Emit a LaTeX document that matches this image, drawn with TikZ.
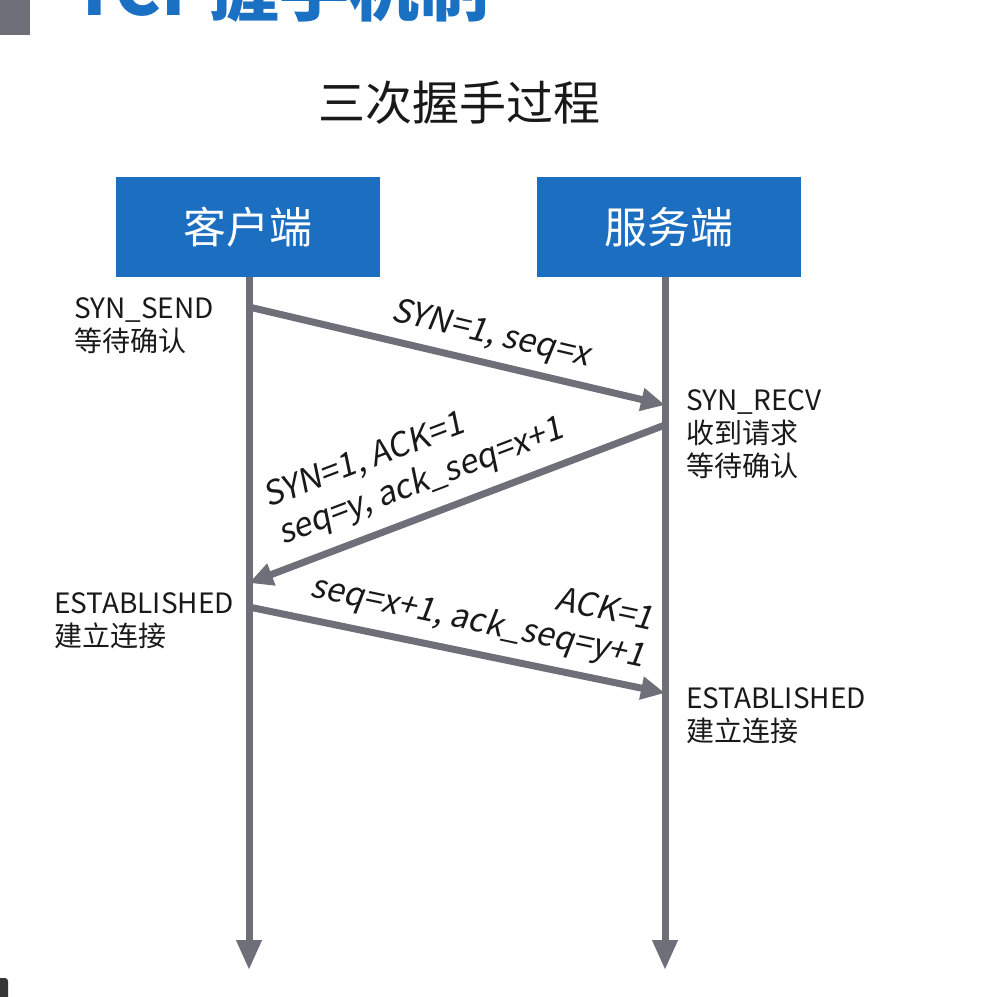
\documentclass[tikz,border=0pt]{standalone}
\usepackage{fontspec}
\setmainfont{Noto Sans CJK SC}
\newfontfamily\msgfont[FakeSlant=0.16]{Noto Sans CJK SC}
\usetikzlibrary{arrows.meta}
\definecolor{lifegrey}{RGB}{110,111,121}
\definecolor{boxblue}{RGB}{27,110,192}
\definecolor{titleblue}{RGB}{26,112,195}
\definecolor{textdark}{RGB}{25,25,25}
\definecolor{cornerdark}{RGB}{55,55,58}
\tikzset{
  party/.style={fill=boxblue, text=white, minimum width=264pt, minimum height=100pt,
    inner sep=0pt, font=\fontsize{43}{50}\selectfont},
  lifeline/.style={draw=lifegrey, line width=7pt,
    -{Triangle[length=30pt,width=24pt]}},
  message/.style={draw=lifegrey, line width=7pt,
    -{Triangle[length=24pt,width=22pt]}},
  state/.style={align=left, inner sep=0pt, anchor=north west, text=textdark,
    font=\fontsize{28}{33}\selectfont},
  msglabel/.style={inner sep=0pt, text=textdark, font=\msgfont\fontsize{33}{40}\selectfont}
}
\begin{document}
\begin{tikzpicture}[x=1pt,y=-1pt]
\useasboundingbox (0,0) rectangle (982,997);
\clip (0,0) rectangle (982,997);

% slide decorations
\fill[lifegrey] (0,0) rectangle (30,35);
\fill[cornerdark, rounded corners=3pt] (-12,978) rectangle (8,1010);
\node[anchor=base west, inner sep=0pt, text=titleblue,
  font=\bfseries\fontsize{70}{78}\selectfont] (title) at (72,15) {TCP握手机制};

% heading
\node[text=textdark, font=\fontsize{47}{55}\selectfont] (heading) at (459,103) {三次握手过程};

% the two parties
\node[party] (client) at (248,227) {客户端};
\node[party] (server) at (668.5,227) {服务端};

% time lines
\coordinate (cend) at (249,970);
\coordinate (send) at (665,970);
\draw[lifeline] (client.south -| cend) -- (cend);
\draw[lifeline] (server.south -| send) -- (send);

% message end points on the time lines
\coordinate (m1a) at (249,307);
\coordinate (m1b) at (665,405);
\coordinate (m2a) at (665,425);
\coordinate (m2b) at (249,583);
\coordinate (m3a) at (249,607);
\coordinate (m3b) at (665,693);

\draw[message] (m1a) -- (m1b);
\draw[message] (m2a) -- (m2b);
\draw[message] (m3a) -- (m3b);

% message labels
\node[msglabel, anchor=base west, rotate=-13.3] (l1) at (390,320) {SYN=1, seq=x};
\node[msglabel, anchor=base west, rotate=20.8] (l2a) at (268,508) {SYN=1, ACK=1};
\node[msglabel, anchor=base west, rotate=20.8] (l2b) at (283,545) {seq=y, ack\_seq=x+1};
\node[msglabel, anchor=base east, rotate=-12] (l3a) at (651,630) {ACK=1};
\node[msglabel, anchor=base east, rotate=-12] (l3b) at (643,667) {seq=x+1, ack\_seq=y+1};

% connection states
\node[state] (s1) at (74,297) {SYN\_SEND\\等待确认};
\node[state] (s2) at (686,389) {SYN\_RECV\\收到请求\\等待确认};
\node[state] (s3) at (54,592) {ESTABLISHED\\建立连接};
\node[state] (s4) at (686,687) {ESTABLISHED\\建立连接};
\end{tikzpicture}
\end{document}
